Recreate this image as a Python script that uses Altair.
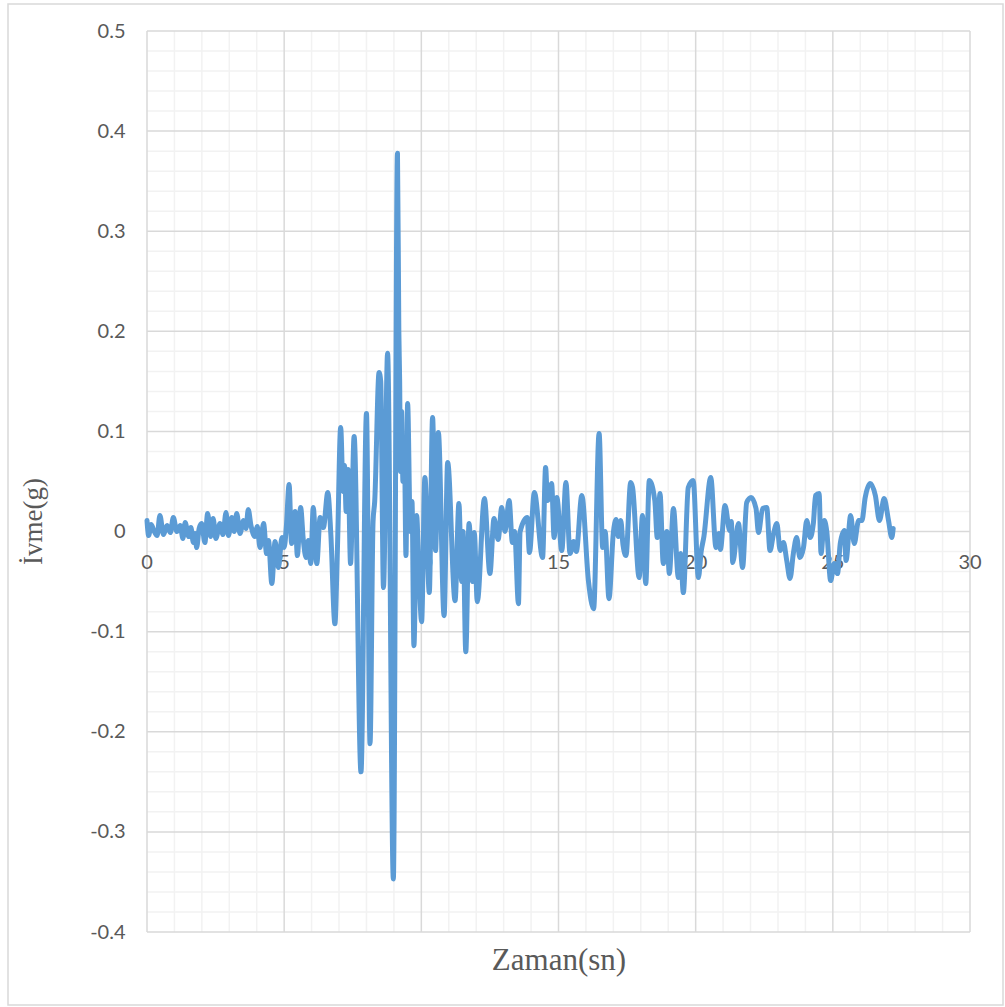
import altair as alt
import pandas as pd

times = [
    0.00, 0.06, 0.15, 0.25, 0.37, 0.47, 0.60, 0.73, 0.85, 0.96, 1.09, 1.21, 1.31, 1.39, 1.52, 1.60,
    1.69, 1.75, 1.81, 1.90, 1.99, 2.11, 2.21, 2.32, 2.41, 2.51, 2.66, 2.77, 2.88, 2.97, 3.09, 3.18,
    3.27, 3.39, 3.52, 3.61, 3.69, 3.79, 3.93, 4.02, 4.12, 4.25, 4.36, 4.43, 4.55, 4.67, 4.79, 4.92,
    5.00, 5.08, 5.18, 5.27, 5.40, 5.48, 5.60, 5.70, 5.80, 5.88, 5.97, 6.06, 6.19, 6.31, 6.43, 6.59,
    6.70, 6.85, 6.94, 7.06, 7.15, 7.20, 7.26, 7.33, 7.42, 7.55, 7.80, 8.00, 8.13, 8.24, 8.30, 8.46,
    8.52, 8.62, 8.77, 8.98, 9.13, 9.18, 9.21, 9.24, 9.28, 9.33, 9.38, 9.44, 9.50, 9.60, 9.66, 9.73,
    9.83, 9.90, 10.01, 10.13, 10.29, 10.41, 10.52, 10.62, 10.83, 10.96, 11.23, 11.37, 11.47, 11.52,
    11.62, 11.74, 11.86, 11.93, 12.04, 12.30, 12.50, 12.65, 12.80, 12.93, 13.05, 13.20, 13.32, 13.40,
    13.54, 13.60, 13.86, 13.94, 14.12, 14.42, 14.53, 14.60, 14.75, 14.84, 14.94, 15.12, 15.27, 15.42,
    15.55, 15.65, 15.85, 16.09, 16.28, 16.48, 16.61, 16.70, 16.84, 17.00, 17.10, 17.18, 17.27, 17.35,
    17.46, 17.63, 17.70, 17.94, 18.06, 18.18, 18.31, 18.51, 18.60, 18.70, 18.82, 18.95, 19.04, 19.19,
    19.37, 19.45, 19.55, 19.73, 19.91, 20.10, 20.20, 20.30, 20.55, 20.74, 20.85, 20.90, 21.07, 21.24,
    21.30, 21.35, 21.56, 21.71, 21.86, 22.02, 22.20, 22.29, 22.44, 22.59, 22.71, 22.84, 22.96, 23.08,
    23.20, 23.32, 23.44, 23.56, 23.68, 23.80, 23.93, 24.05, 24.17, 24.29, 24.37, 24.50, 24.57, 24.69,
    24.78, 24.92, 25.05, 25.17, 25.27, 25.42, 25.48, 25.65, 25.78, 25.94, 26.06, 26.18, 26.36, 26.55,
    26.70, 26.87, 27.03, 27.15, 27.20,
]

accel = [
    0.011, -0.004, 0.007, 0.001, -0.004, 0.016, -0.003, 0.006, -0.001, 0.014, 0.000, 0.006, -0.007, 0.009, -0.005, 0.004,
    -0.011, -0.002, -0.016, 0.003, 0.008, -0.011, 0.018, -0.005, 0.013, -0.007, 0.008, -0.003, 0.019, -0.004, 0.014, 0.000,
    0.018, -0.002, 0.011, 0.003, 0.022, 0.006, -0.005, 0.005, -0.016, 0.008, -0.022, -0.009, -0.052, -0.010, -0.036, -0.006,
    -0.016, 0.005, 0.047, -0.012, 0.020, -0.024, 0.024, -0.009, -0.026, -0.009, -0.032, 0.024, -0.032, 0.014, 0.004, 0.039,
    -0.002, -0.092, -0.019, 0.104, 0.040, 0.066, 0.020, 0.062, -0.032, 0.095, -0.240, 0.118, -0.212, 0.010, 0.030, 0.159,
    0.150, -0.056, 0.178, -0.347, 0.378, 0.200, 0.150, 0.060, 0.120, 0.050, 0.090, -0.024, 0.128, 0.000, 0.030, -0.114,
    0.016, -0.030, -0.090, 0.054, -0.061, 0.114, -0.019, 0.099, -0.084, 0.069, -0.069, 0.028, -0.050, 0.000,
    -0.120, 0.008, -0.050, -0.001, -0.070, 0.033, -0.042, 0.013, -0.008, 0.024, 0.000, 0.031, -0.011, 0.000,
    -0.072, 0.000, 0.014, -0.021, 0.039, -0.026, 0.064, 0.031, 0.048, -0.006, 0.034, -0.019, 0.049, -0.022,
    -0.010, -0.020, 0.036, -0.049, -0.077, 0.098, -0.016, 0.000, -0.067, -0.001, 0.012, -0.005, 0.011, -0.013,
    -0.024, 0.049, 0.044, -0.046, 0.016, -0.052, 0.051, 0.031, -0.006, 0.038, -0.032, 0.000, -0.042, 0.023,
    -0.046, -0.022, -0.061, 0.044, 0.051, -0.046, -0.020, -0.005, 0.054, -0.016, -0.002, -0.018, 0.026, 0.001,
    0.010, -0.031, 0.008, -0.036, 0.029, 0.034, 0.023, -0.001, 0.023, 0.024, -0.019, -0.002, 0.008, -0.019,
    -0.011, -0.029, -0.047, -0.022, -0.006, -0.026, -0.016, 0.011, -0.006, 0.008, 0.036, 0.038, -0.022, 0.011,
    0.000, -0.049, -0.032, -0.042, -0.012, 0.001, -0.029, 0.016, -0.012, 0.011, 0.011, 0.034, 0.048, 0.036,
    0.011, 0.033, 0.011, -0.006, 0.003,
]

x_major = [0, 5, 10, 15, 20, 25, 30]
x_minor = [i for i in range(31) if i % 5 != 0]
y_major = [-0.4, -0.3, -0.2, -0.1, 0.0, 0.1, 0.2, 0.3, 0.4, 0.5]
y_minor = [round(-0.4 + 0.02 * i, 2) for i in range(46) if i % 5 != 0]

df = pd.DataFrame({"t": times, "v": accel})

xs = alt.Scale(domain=[0, 30], nice=False, zero=False)
ys = alt.Scale(domain=[-0.4, 0.5], nice=False, zero=False)

MINOR = "#f2f2f2"
MAJOR = "#d9d9d9"
LABEL = "#595959"

x_axis = alt.Axis(
    title="Zaman(sn)", labels=False, ticks=False, domain=False, grid=False,
    titleFont="Liberation Serif", titleFontSize=31, titleFontWeight="normal", titleColor=LABEL,
    titleBaseline="middle", titleY=28)
y_axis = alt.Axis(
    title="İvme(g)", values=y_major, ticks=False, domain=False, grid=False,
    labelExpr="datum.value == 0 ? '0' : (datum.value < 0 ? '-' : '') + format(abs(datum.value), '.1f')",
    labelFont="Lato", labelFontSize=20, labelColor=LABEL, labelPadding=22,
    titleFont="Liberation Serif", titleFontSize=27, titleFontWeight="normal", titleColor=LABEL,
    titleAngle=270, titleAlign="center", titleBaseline="middle", titleX=-114, titleY=490)

minor_x = alt.Chart(pd.DataFrame({"x": x_minor})).mark_rule(color=MINOR, strokeWidth=1.5).encode(
    x=alt.X("x:Q", scale=xs, axis=x_axis))
minor_y = alt.Chart(pd.DataFrame({"y": y_minor})).mark_rule(color=MINOR, strokeWidth=1.5).encode(
    y=alt.Y("y:Q", scale=ys, axis=y_axis))
major_x = alt.Chart(pd.DataFrame({"x": x_major})).mark_rule(color=MAJOR, strokeWidth=1.5).encode(
    x=alt.X("x:Q", scale=xs, axis=x_axis))
major_y = alt.Chart(pd.DataFrame({"y": y_major})).mark_rule(color=MAJOR, strokeWidth=1.5).encode(
    y=alt.Y("y:Q", scale=ys, axis=y_axis))

frame = alt.Chart(pd.DataFrame({"a": [0]})).mark_rect(
    fill=None, stroke=MAJOR, strokeWidth=1.5).encode(
    x=alt.value(-139), x2=alt.value(856), y=alt.value(-27), y2=alt.value(974))

xlabels = alt.Chart(pd.DataFrame({"x": x_major, "y": [0] * len(x_major)})).mark_text(
    font="Lato", fontSize=20, color=LABEL, baseline="middle", align="center", dy=31).encode(
    x=alt.X("x:Q", scale=xs, axis=x_axis),
    y=alt.Y("y:Q", scale=ys, axis=y_axis),
    text=alt.Text("x:Q"))

line = alt.Chart(df).mark_line(
    color="#5B9BD5", strokeWidth=5, strokeJoin="round", strokeCap="round",
    interpolate="monotone").encode(
    x=alt.X("t:Q", scale=xs, axis=x_axis),
    y=alt.Y("v:Q", scale=ys, axis=y_axis),
    order="t:Q")

chart = alt.layer(minor_x, minor_y, major_x, major_y, frame, xlabels, line).properties(
    width=823, height=901,
    autosize=alt.AutoSizeParams(type="none"),
    padding={"left": 147, "top": 31, "right": 35, "bottom": 75},
    background="white",
).configure_view(stroke=None)

chart.save("out.html", embed_options={"renderer": "svg", "actions": False})
